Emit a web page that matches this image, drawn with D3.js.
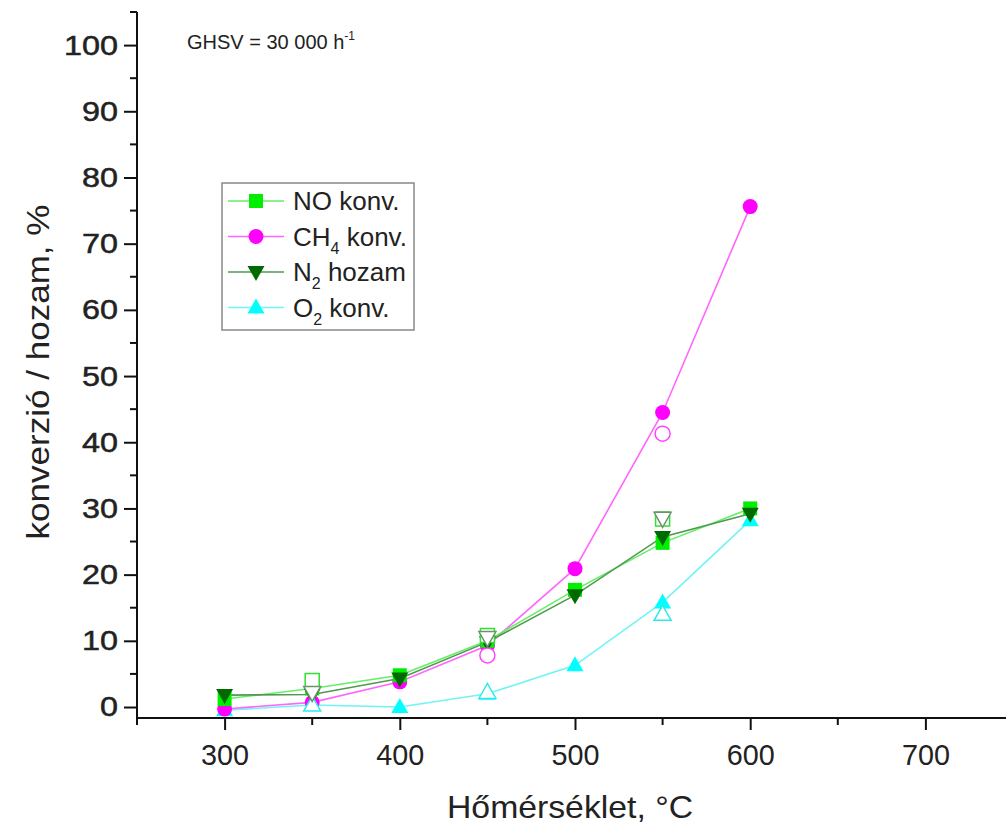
<!DOCTYPE html>
<html>
<head>
<meta charset="utf-8">
<script src="https://cdn.jsdelivr.net/npm/d3@7"></script>
<style>
  html, body { margin: 0; padding: 0; background: #fff; }
  svg { display: block; font-family: "Liberation Sans", Arial, sans-serif; }
</style>
</head>
<body>
<svg id="chart" width="1006" height="830"></svg>
<script>
// Reaction temperatures, °C
const temps = [300, 350, 400, 450, 500, 550, 600];

// Main measurement series, %
const noConv  = [1.2, 2.8, 4.8, 10.0, 17.7, 24.8, 30.0];
const ch4Conv = [-0.3, 0.7, 3.8, 9.3, 20.9, 44.5, 75.6];
const n2Yield = [1.8, 1.9, 4.3, 9.8, 16.9, 25.7, 29.2];
const o2Conv  = [-0.5, 0.3, 0.0, 2.0, 6.3, 15.8, 28.2];

// Repeated measurements (open symbols), %
const repeatTemps = [350, 450, 550];
const noRepeat  = [4.0, 10.8, 28.4];
const ch4Repeat = [null, 7.8, 41.3];
const n2Repeat  = [2.2, 10.5, 28.5];
const o2Repeat  = [0.3, 2.2, 14.0];

// Axis ticks
const xTicks = [300, 400, 500, 600, 700];
const xMinorTicks = [250, 350, 450, 550, 650];
const yTicks = [0, 10, 20, 30, 40, 50, 60, 70, 80, 90, 100];
const yMinorTicks = [5, 15, 25, 35, 45, 55, 65, 75, 85, 95, 105];

const svg = d3.select("#chart");
svg.append("rect").attr("width", 1006).attr("height", 830).attr("fill", "#fff");

const x = d3.scaleLinear().domain([250, 750]).range([137, 1013]);
const y = d3.scaleLinear().domain([-1.66, 105]).range([718, 12]);

// series styles
const series = [
  { key: "O2",  vals: o2Conv,  rep: o2Repeat,  shape: "up",   fill: "#00ffff", line: "#70f4f4", open: "#30eaea" },
  { key: "CH4", vals: ch4Conv, rep: ch4Repeat, shape: "circle", fill: "#ff00ff", line: "#ff66ff", open: "#ff44ff" },
  { key: "NO",  vals: noConv,  rep: noRepeat,  shape: "square", fill: "#00ee00", line: "#66ee66", open: "#33dd33" },
  { key: "N2",  vals: n2Yield, rep: n2Repeat,  shape: "down", fill: "#006a00", line: "#4f9a4f", open: "#6a946a" }
];

function symbolPath(shape) {
  if (shape === "square") return "M-7,-7H7V7H-7Z";
  if (shape === "circle") return "M7.5,0A7.5,7.5 0 1 1 -7.5,0A7.5,7.5 0 1 1 7.5,0Z";
  if (shape === "up") return "M0,-9L8.5,6L-8.5,6Z";
  return "M0,9L8.5,-6L-8.5,-6Z";
}

// connecting lines
const line = d3.line().x(d => x(d[0])).y(d => y(d[1]));
const gLines = svg.append("g");
series.forEach(s => {
  gLines.append("path")
    .datum(temps.map((t, i) => [t, s.vals[i]]))
    .attr("d", line)
    .attr("fill", "none")
    .attr("stroke", s.line)
    .attr("stroke-width", 1.6);
});

// filled symbols
const gMarks = svg.append("g");
series.forEach(s => {
  gMarks.selectAll(null)
    .data(temps.map((t, i) => [t, s.vals[i]]))
    .join("path")
    .attr("transform", d => `translate(${x(d[0])},${y(d[1])})`)
    .attr("d", symbolPath(s.shape))
    .attr("fill", s.fill);
});

// open symbols for the repeated runs
const openOrder = ["O2", "CH4", "NO", "N2"];
const gOpen = svg.append("g");
openOrder.forEach(k => {
  const s = series.find(v => v.key === k);
  const pts = repeatTemps.map((t, i) => [t, s.rep[i]]).filter(d => d[1] !== null);
  gOpen.selectAll(null)
    .data(pts)
    .join("path")
    .attr("transform", d => `translate(${x(d[0])},${y(d[1])})`)
    .attr("d", symbolPath(s.shape))
    .attr("fill", "#fff")
    .attr("stroke", s.open)
    .attr("stroke-width", 1.5);
});

// axes
const axisColor = "#111";
const gx = svg.append("g").attr("transform", `translate(0,${y(-1.66)})`);
gx.call(d3.axisBottom(x).tickValues(xTicks).tickSize(12).tickPadding(14).tickFormat(d3.format("d")));
gx.append("g").selectAll("line").data(xMinorTicks).join("line")
  .attr("x1", d => x(d)).attr("x2", d => x(d)).attr("y1", 0).attr("y2", 7)
  .attr("stroke", axisColor).attr("stroke-width", 2);
gx.select(".domain").attr("d", `M${x(250)},0H1006`).attr("stroke", axisColor).attr("stroke-width", 2);
gx.selectAll(".tick line").attr("stroke", axisColor).attr("stroke-width", 2);
gx.selectAll(".tick text")
  .attr("font-size", 30).attr("fill", "#222")
  .attr("font-family", "'Liberation Sans', Arial, sans-serif")
  .attr("textLength", 48).attr("lengthAdjust", "spacingAndGlyphs");

const gy = svg.append("g").attr("transform", `translate(${x(250)},0)`);
gy.call(d3.axisLeft(y).tickValues(yTicks).tickSize(13).tickPadding(6).tickFormat(d3.format("d")));
gy.append("g").selectAll("line").data(yMinorTicks).join("line")
  .attr("x1", -7).attr("x2", 0).attr("y1", d => y(d)).attr("y2", d => y(d))
  .attr("stroke", axisColor).attr("stroke-width", 2);
gy.select(".domain").attr("d", `M0,${y(105)}V${y(-1.66)}`).attr("stroke", axisColor).attr("stroke-width", 2);
gy.selectAll(".tick line").attr("stroke", axisColor).attr("stroke-width", 2);
gy.selectAll(".tick text")
  .attr("font-size", 28).attr("fill", "#222")
  .attr("stroke", "#222").attr("stroke-width", 0.5)
  .attr("font-family", "'Liberation Sans', Arial, sans-serif")
  .each(function(d) {
    const n = String(d).length;
    d3.select(this).attr("textLength", n * 18).attr("lengthAdjust", "spacingAndGlyphs");
  });

// axis titles
svg.append("text")
  .attr("x", 570).attr("y", 818)
  .attr("text-anchor", "middle")
  .attr("font-size", 32).attr("fill", "#222")
  .attr("textLength", 246).attr("lengthAdjust", "spacingAndGlyphs")
  .text("Hőmérséklet, °C");

svg.append("text")
  .attr("transform", "translate(49,372) rotate(-90)")
  .attr("text-anchor", "middle")
  .attr("font-size", 32).attr("fill", "#222")
  .attr("textLength", 335).attr("lengthAdjust", "spacingAndGlyphs")
  .text("konverzió / hozam, %");

// space velocity note
const note = svg.append("text").attr("x", 187).attr("y", 49).attr("font-size", 20).attr("fill", "#222");
note.append("tspan").text("GHSV = 30 000 h");
note.append("tspan").attr("font-size", 12).attr("dy", -9).text("-1");

// legend
const legendItems = [
  { key: "NO",  label: ["NO", null, " konv."] },
  { key: "CH4", label: ["CH", "4", " konv."] },
  { key: "N2",  label: ["N", "2", " hozam"] },
  { key: "O2",  label: ["O", "2", " konv."] }
];
const lg = svg.append("g");
lg.append("rect").attr("x", 222).attr("y", 183).attr("width", 192).attr("height", 147)
  .attr("fill", "#fff").attr("stroke", "#888").attr("stroke-width", 1.5);
legendItems.forEach((it, i) => {
  const s = series.find(v => v.key === it.key);
  const cy = 201 + i * 35.5;
  lg.append("line").attr("x1", 228).attr("x2", 284).attr("y1", cy).attr("y2", cy)
    .attr("stroke", s.line).attr("stroke-width", 1.6);
  lg.append("path").attr("transform", `translate(256,${cy})`).attr("d", symbolPath(s.shape)).attr("fill", s.fill);
  const t = lg.append("text").attr("x", 293).attr("y", cy + 9).attr("font-size", 26).attr("fill", "#222");
  t.append("tspan").text(it.label[0]);
  if (it.label[1]) {
    t.append("tspan").attr("font-size", 16).attr("dy", 8).text(it.label[1]);
    t.append("tspan").attr("dy", -8).text(it.label[2]);
  } else {
    t.append("tspan").text(it.label[2]);
  }
});
</script>
</body>
</html>
